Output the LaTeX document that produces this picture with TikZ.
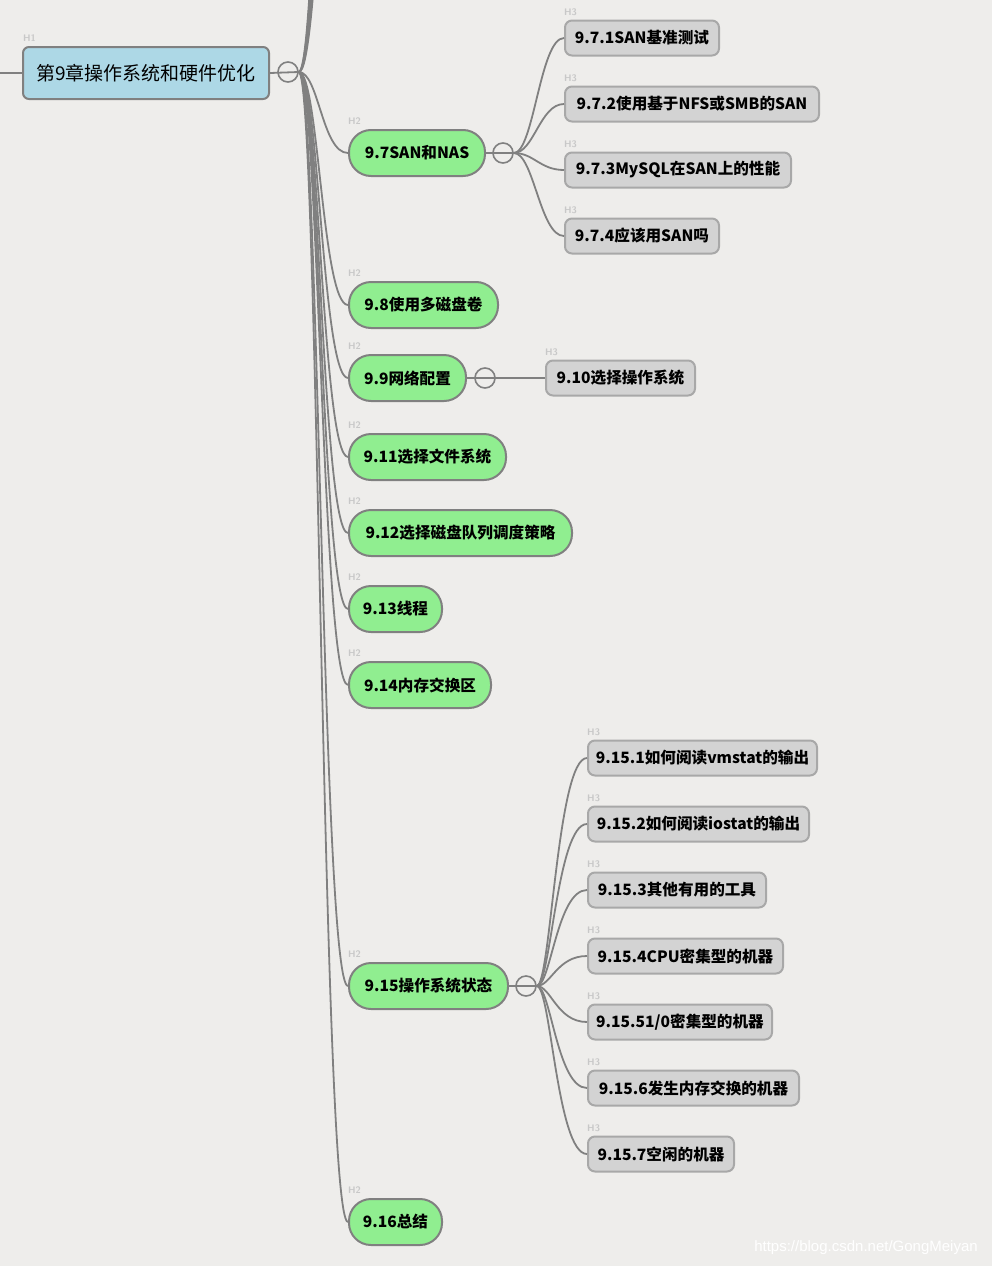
\documentclass[tikz,border=0pt]{standalone}
\usepackage{fontspec}
\newfontfamily\cjk{Noto Sans CJK SC}
\newfontfamily\wmfont{Liberation Sans}
\definecolor{bg}{HTML}{EEEDEB}
\definecolor{linegray}{HTML}{808080}
\definecolor{rootfill}{HTML}{ADD8E6}
\definecolor{greenfill}{HTML}{90EE90}
\definecolor{grayfill}{HTML}{D3D3D3}
\definecolor{h3border}{HTML}{A8A8A8}
\definecolor{tagcol}{HTML}{C8C8C8}
\tikzset{
  rootbox/.style={draw=linegray, line width=2pt, fill=rootfill, rounded corners=6pt,
    minimum height=52pt, inner sep=0pt, anchor=west, font=\cjk\fontsize{19}{21}\selectfont},
  h2box/.style={draw=linegray, line width=2pt, fill=greenfill, rounded corners=22pt,
    minimum height=46pt, inner sep=0pt, anchor=west, font=\cjk\bfseries\fontsize{15.6}{18}\selectfont},
  h3box/.style={draw=h3border, line width=2pt, fill=grayfill, rounded corners=7pt,
    minimum height=35pt, inner sep=0pt, anchor=west, font=\cjk\bfseries\fontsize{15.6}{18}\selectfont},
  tag/.style={anchor=south west, inner sep=0pt, text=tagcol, font=\sffamily\bfseries\fontsize{9.5}{10}\selectfont},
  cc/.style={circle, draw=linegray, line width=1.6pt, fill=bg, minimum size=20pt, inner sep=0pt},
  ln/.style={draw=linegray, line width=1.8pt},
}
\begin{document}
\begin{tikzpicture}[x=1pt,y=-1pt]
\fill[bg] (0,0) rectangle (992,1266);
\useasboundingbox (0,0) rectangle (992,1266);
\clip (0,0) rectangle (992,1266);

% root
\node[rootbox, minimum width=246pt] (root) at (22,73) {第9章操作系统和硬件优化};
\node[tag] (troot) at ([xshift=1pt,yshift=4pt]root.north west) {H1};
\coordinate (rin) at (-5,73);
\node[cc] (c9) at (288,72) {};

% H2 nodes
\node[h2box, minimum width=136pt] (n97) at (348,153) {9.7SAN和NAS};
\node[h2box, minimum width=149pt] (n98) at (348,305) {9.8使用多磁盘卷};
\node[h2box, minimum width=117pt] (n99) at (348,378) {9.9网络配置};
\node[h2box, minimum width=157pt] (n911) at (348,457) {9.11选择文件系统};
\node[h2box, minimum width=223pt] (n912) at (348,533) {9.12选择磁盘队列调度策略};
\node[h2box, minimum width=93pt] (n913) at (348,609) {9.13线程};
\node[h2box, minimum width=142pt] (n914) at (348,685) {9.14内存交换区};
\node[h2box, minimum width=159pt] (n915) at (348,986) {9.15操作系统状态};
\node[h2box, minimum width=93pt] (n916) at (348,1222) {9.16总结};
\foreach \n in {n97,n98,n99,n911,n912,n913,n914,n915,n916}
  \node[tag] (t\n) at ([xshift=0pt,yshift=4pt]\n.north west) {H2};

% collapse circles
\node[cc] (c97) at (503,153) {};
\node[cc] (c99) at (485,378) {};
\node[cc] (c915) at (526,986) {};

% H3 nodes
\node[h3box, minimum width=154pt] (n971) at (564,38) {9.7.1SAN基准测试};
\node[h3box, minimum width=254pt] (n972) at (564,104) {9.7.2使用基于NFS或SMB的SAN};
\node[h3box, minimum width=226pt] (n973) at (564,170) {9.7.3MySQL在SAN上的性能};
\node[h3box, minimum width=154pt] (n974) at (564,236) {9.7.4应该用SAN吗};
\node[h3box, minimum width=149pt] (n910) at (545,378) {9.10选择操作系统};
\node[h3box, minimum width=229pt] (n9151) at (587,758) {9.15.1如何阅读vmstat的输出};
\node[h3box, minimum width=221pt] (n9152) at (587,824) {9.15.2如何阅读iostat的输出};
\node[h3box, minimum width=178pt] (n9153) at (587,890) {9.15.3其他有用的工具};
\node[h3box, minimum width=195pt] (n9154) at (587,956) {9.15.4CPU密集型的机器};
\node[h3box, minimum width=184pt] (n9155) at (587,1022) {9.15.51/0密集型的机器};
\node[h3box, minimum width=211pt] (n9156) at (587,1088) {9.15.6发生内存交换的机器};
\node[h3box, minimum width=146pt] (n9157) at (587,1154) {9.15.7空闲的机器};
\foreach \n in {n971,n972,n973,n974,n910,n9151,n9152,n9153,n9154,n9155,n9156,n9157}
  \node[tag] (t\n) at ([xshift=0pt,yshift=4pt]\n.north west) {H3};

% off-screen siblings above
\coordinate (up1) at (348,-300);
\coordinate (up2) at (348,-380);
\coordinate (up3) at (348,-460);
\coordinate (up4) at (348,-540);
\coordinate (up5) at (348,-620);

% connectors
\draw[ln] (rin) -- (root.west);
\draw[ln] (root.east) -- (c9.east);
\foreach \t in {up1,up2,up3,up4,up5}
  \draw[ln] (c9.east) .. controls +(20,0) and +(-26,0) .. (\t);
\foreach \t in {n97,n98,n99,n911,n912,n913,n914,n915,n916}
  \draw[ln] (c9.east) .. controls +(20,0) and +(-26,0) .. (\t.west);

\draw[ln] (n97.east) -- (c97.east);
\foreach \t in {n971,n972,n973,n974}
  \draw[ln] (c97.east) .. controls +(20,0) and +(-24,0) .. (\t.west);

\draw[ln] (n99.east) -- (c99.east);
\draw[ln] (c99.east) -- (n910.west);

\draw[ln] (n915.east) -- (c915.east);
\foreach \t in {n9151,n9152,n9153,n9154,n9155,n9156,n9157}
  \draw[ln] (c915.east) .. controls +(14,0) and +(-30,0) .. (\t.west);

% watermark
\node[text=white, inner sep=0pt, font=\wmfont\fontsize{15}{17}\selectfont] (wm) at (866,1248) {https://blog.csdn.net/GongMeiyan};
\end{tikzpicture}
\end{document}
